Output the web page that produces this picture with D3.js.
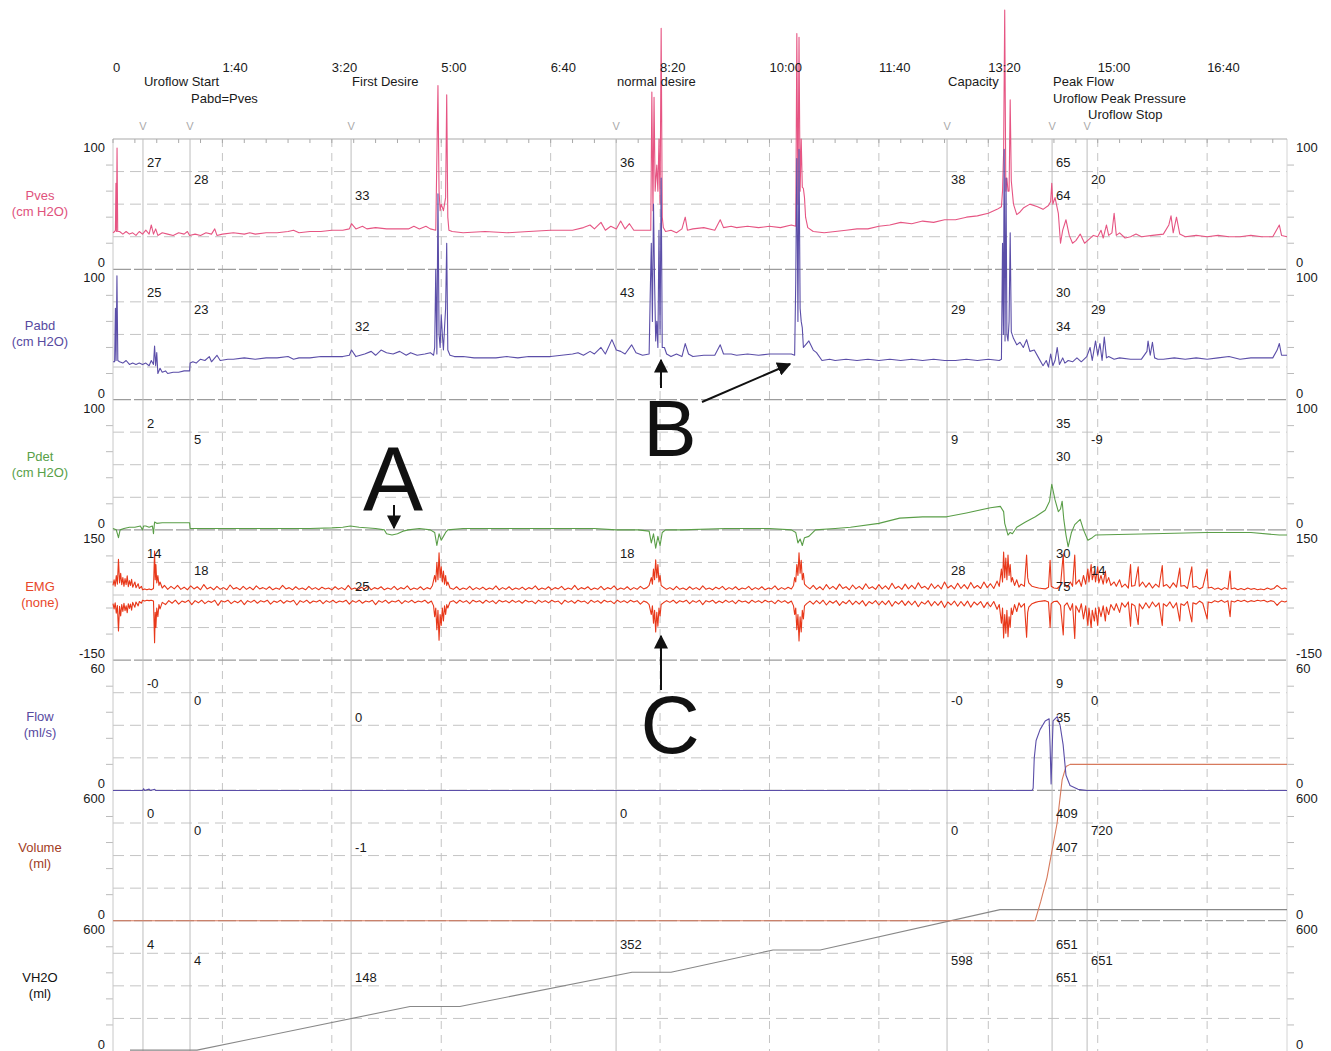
<!DOCTYPE html>
<html><head><meta charset="utf-8">
<script src="https://cdn.jsdelivr.net/npm/d3@7"></script>
<style>body{margin:0;background:#fff} text{font-family:"Liberation Sans",Arial,sans-serif}</style>
</head><body><svg id="c" width="1331" height="1051"></svg>
<script>
// ---------------- DATA ----------------
const duration = 1073; // seconds shown
const timeTickSeconds = [0,100,200,300,400,500,600,700,800,900,1000];
const timeTickLabels = ["0","1:40","3:20","5:00","6:40","8:20","10:00","11:40","13:20","15:00","16:40"];

const channels = ["Pves","Pabd","Pdet","EMG","Flow","Volume","VH2O"];
const channelUnits = ["(cm H2O)","(cm H2O)","(cm H2O)","(none)","(ml/s)","(ml)","(ml)"];
const channelMin = [0,0,0,-150,0,0,0];
const channelMax = [100,100,100,150,60,600,600];

const eventTimes = [27.4,70.4,217.6,459.8,762.3,858.3,858.3,890.3];
const eventNames = ["Uroflow Start","Pabd=Pves","First Desire","normal desire","Capacity","Peak Flow","Uroflow Peak Pressure","Uroflow Stop"];
const eventLabelRow = [0,1,0,0,0,0,1,2];
const eventValueRow = [0,1,2,0,1,0,2,1];

const valPves   = ["27","28","33","36","38","65","64","20"];
const valPabd   = ["25","23","32","43","29","30","34","29"];
const valPdet   = ["2","5",null,null,"9","35","30","-9"];
const valEMG    = ["14","18","25","18","28","30","75","14"];
const valFlow   = ["-0","0","0",null,"-0","9","35","0"];
const valVolume = ["0","0","-1","0","0","409","407","720"];
const valVH2O   = ["4","4","148","352","598","651","651","651"];

const pves = [[0,28],[1.5,29],[2.2,30],[2.7,66],[3.1,29],[3.7,93],[4.3,29],[6,29],[9,27],[12,29],[15,27],[18,28],[21,26],[24,29],[27,27],[30,30],[33,27],[35,34],[37,27],[39,31],[41,26],[45,28],[50,27],[55,26],[60,28],[65,27],[68,29],[70,26],[75,27],[80,26],[85,28],[90,27],[93,31],[95,26],[100,27],[110,28],[120,27],[125,28],[130,27],[140,28],[150,28],[160,29],[165,30],[170,28],[180,29],[190,29],[200,30],[210,30],[216,31],[218,35],[222,31],[228,33],[232,31],[240,32],[250,31],[260,31],[270,31],[275,33],[280,31],[286,33],[290,31],[295,30],[297,141],[298,60],[299,45],[300,50],[302,45],[304,55],[305,134],[306,40],[307,30],[310,29],[320,28],[340,29],[360,28],[380,29],[400,30],[420,30],[430,32],[436,34],[440,31],[446,36],[450,30],[455,33],[460,31],[464,37],[468,31],[472,35],[476,30],[485,30],[491.5,30],[492.5,136],[493.5,45],[494.5,132],[495.5,60],[497,80],[498,60],[499,100],[500,50],[501,185],[502,40],[503,32],[505,29],[510,30],[515,28],[520,31],[523,40],[525,30],[530,31],[540,32],[550,30],[555,38],[558,32],[565,33],[570,32],[580,33],[590,32],[600,33],[610,32],[620,34],[624,33],[625,181],[626,50],[627,178],[628,60],[629,100],[630,63],[631,62],[632,55],[633,40],[635,32],[640,29],[650,28],[660,29],[670,30],[680,31],[690,31],[700,33],[710,34],[720,36],[730,35],[740,37],[750,36],[760,38],[770,38],[780,40],[790,41],[800,43],[808,46],[812,48],[813,60],[814,90],[815,199],[816,60],[817,70],[818,60],[819,60],[820,130],[821,68],[823,50],[826,42],[829,44],[832,47],[838,50],[845,48],[850,46],[855,49],[857,52],[858,66],[859,50],[861,55],[864,43],[866,20],[868,30],[871,38],[874,26],[877,20],[880,22],[884,27],[888,20],[892,23],[896,26],[900,25],[903,30],[905,24],[908,34],[910,26],[913,28],[915,43],[917,26],[920,28],[925,24],[930,25],[935,27],[940,25],[950,26],[960,27],[965,34],[967,41],[969,28],[972,40],[975,27],[980,25],[990,26],[1000,25],[1010,26],[1020,25],[1030,25],[1040,26],[1050,25],[1060,25],[1066,34],[1068,26],[1073,25]];

const pabd = [[0,29],[1.5,29],[2.2,70],[2.8,30],[3.6,95],[4.4,30],[6,29],[9,28],[12,30],[15,27],[18,28],[21,27],[24,28],[27,27],[30,28],[33,26],[35,30],[37,27],[38,41],[39,26],[40,36],[41,20],[43,24],[45,21],[48,22],[50,20],[55,21],[60,21],[65,22],[70,22],[70.5,28],[73,29],[76,28],[80,31],[84,30],[88,33],[90,29],[95,34],[98,30],[105,31],[110,31],[120,32],[130,31],[140,32],[150,32],[160,33],[165,31],[170,32],[180,32],[190,33],[200,33],[210,33],[216,34],[218,38],[222,33],[230,35],[236,37],[240,34],[245,38],[250,36],[256,35],[262,37],[268,34],[272,36],[278,34],[285,35],[290,36],[293,34],[294,40],[295,100],[296,35],[297,158],[298,50],[299,40],[300,65],[301,50],[302,38],[303,55],[304,70],[305,120],[306,38],[308,34],[312,33],[320,33],[330,32],[340,32],[350,32],[360,33],[370,32],[380,33],[390,33],[400,33],[410,34],[420,35],[425,36],[430,34],[436,37],[440,35],[446,40],[450,35],[456,46],[460,38],[464,37],[468,35],[474,42],[478,36],[484,34],[490,35],[491,80],[492,120],[493,60],[494,150],[495,90],[496,45],[497,60],[498,40],[499,130],[500,50],[501,170],[502,40],[504,40],[506,35],[510,33],[515,35],[520,33],[523,43],[526,35],[530,33],[540,34],[550,34],[555,42],[558,35],[565,35],[570,34],[580,35],[590,34],[600,35],[610,35],[620,35],[623,34],[624,90],[625,185],[626,60],[627,192],[628,70],[629,60],[630,55],[631,40],[633,42],[636,45],[640,38],[643,36],[648,30],[655,31],[660,30],[670,31],[680,30],[690,31],[700,30],[710,31],[720,30],[730,31],[740,30],[750,31],[760,30],[770,30],[780,31],[790,30],[800,31],[810,30],[812,31],[813,120],[813.8,50],[814.5,192],[815.3,45],[816.2,170],[817,50],[818,45],[819,60],[820,128],[821,52],[823,47],[826,42],[829,44],[832,40],[835,46],[838,37],[842,38],[846,32],[850,26],[853,30],[855,25],[857,35],[859,26],[861,30],[863,40],[865,27],[868,32],[870,28],[873,30],[877,29],[881,32],[885,29],[890,33],[893,40],[895,30],[898,45],[900,34],[902,43],[904,30],[906,48],[908,32],[910,33],[915,31],[920,32],[930,31],[940,31],[945,37],[946,45],[948,34],[950,44],[952,32],[955,31],[960,31],[970,32],[980,31],[990,32],[1000,31],[1010,32],[1020,33],[1030,31],[1040,32],[1050,32],[1060,32],[1064,38],[1066,43],[1068,34],[1073,34]];

const pdet = [[0,1],[3,0],[5,-6],[6.5,0],[10,1],[15,2],[20,2],[25,3],[27,0],[28,3],[30,3],[33,2],[36,3],[37,-3],[38,6],[40,5],[45,5.5],[50,5.5],[60,5.5],[70,5.5],[70.5,1],[80,1],[100,1],[120,1],[150,1],[180,1],[200,1.5],[210,2],[217,3],[225,2],[240,1],[248,0],[250,-3],[255,-4],[260,-3],[265,-1],[270,0],[280,1],[290,0],[294,-2],[296,-12],[298,-3],[300,-8],[302,-5],[304,-2],[306,0],[320,1],[350,1],[400,1],[440,1],[460,0],[480,0],[490,-1],[492,-10],[494,-3],[496,-14],[498,-5],[500,-12],[502,-2],[505,0],[520,0],[560,1],[600,1],[620,0],[624,-2],[626,-10],[628,-7],[630,-12],[632,-6],[636,-5],[642,0],[660,1],[674,2],[700,5],[719,9],[740,10],[762,10],[780,13],[802,17],[811,18],[814,14],[815,5],[818,-4],[820,-2],[822,-3],[826,2],[834,6],[843,10],[852,15],[856,22],[858,35],[861,23],[864,14],[866,16],[867.5,22],[869,8],[871,-4],[873,-13],[876,-2],[879,4],[884,8],[887,0],[891,-8],[895,-6],[898,-4],[950,-3],[1000,-2],[1040,-2],[1066,-4],[1073,-4]];

const emgUpper = [[0,22],[1,35],[2,20],[3,45],[4,25],[5,82],[6,28],[7,50],[8,24],[9,40],[10,20],[11,38],[12,24],[13,44],[14,19],[15,33],[16,22],[17,36],[18,18],[20,30],[21,17],[23,26],[24,15],[26,20],[27,12],[29,14],[31,12],[33,14],[35,12],[37,15],[38,101],[38.6,35],[39.2,70],[40,28],[41,45],[42,22],[43,30],[45,16],[47,22],[50,13],[53,20],[56,14],[59,22],[62,13],[65,18],[68,12],[71,21],[74,14],[77,19],[80,12],[83,24],[86,14],[89,18],[92,12],[95,20],[98,13],[101,17],[104,12],[107,23],[110,14],[113,17],[116,12],[119,20],[122,13],[125,18],[128,12],[131,21],[134,14],[137,17],[140,13],[143,19],[146,12],[149,16],[152,13],[155,22],[158,14],[161,17],[164,12],[167,19],[170,13],[173,16],[176,12],[179,20],[182,13],[185,17],[188,12],[191,18],[194,14],[197,16],[200,12],[203,19],[206,13],[209,17],[212,12],[215,22],[218,13],[221,16],[224,12],[227,18],[230,14],[233,21],[236,12],[239,17],[242,14],[245,19],[248,12],[251,16],[254,13],[257,20],[260,12],[263,17],[266,14],[269,21],[272,12],[275,16],[278,13],[281,19],[284,12],[287,17],[290,14],[292,22],[294,45],[295,30],[296,75],[297,35],[298,97],[299,40],[300,65],[301,30],[302,55],[303,25],[304,45],[305,22],[306,30],[308,16],[311,13],[314,19],[317,12],[320,16],[323,13],[326,20],[329,12],[332,17],[335,13],[338,18],[341,12],[344,16],[347,13],[350,21],[353,12],[356,17],[359,13],[362,19],[365,12],[368,16],[371,13],[374,18],[377,12],[380,17],[383,14],[386,21],[389,12],[392,16],[395,13],[398,19],[401,12],[404,17],[407,14],[410,20],[413,12],[416,16],[419,13],[422,22],[425,12],[428,17],[431,14],[434,19],[437,12],[440,16],[443,13],[446,20],[449,12],[452,17],[455,14],[458,21],[461,12],[464,16],[467,13],[470,19],[473,12],[476,17],[479,13],[482,20],[485,14],[488,17],[490,22],[492,40],[493,25],[494,60],[495,35],[496,81],[497,40],[498,70],[499,30],[500,45],[501,22],[503,18],[506,13],[509,17],[512,12],[515,20],[518,13],[521,16],[524,12],[527,19],[530,13],[533,17],[536,12],[539,21],[542,13],[545,16],[548,12],[551,18],[554,14],[557,20],[560,12],[563,17],[566,13],[569,19],[572,12],[575,16],[578,14],[581,20],[584,12],[587,17],[590,13],[593,19],[596,12],[599,16],[602,14],[605,21],[608,12],[611,17],[614,13],[617,18],[620,14],[622,22],[623,40],[624,30],[625,70],[626,45],[627,97],[628,50],[629,80],[630,35],[631,50],[632,25],[634,20],[637,14],[640,22],[643,13],[646,19],[649,12],[652,24],[655,14],[658,20],[661,13],[664,25],[667,15],[670,19],[673,12],[676,23],[679,14],[682,20],[685,13],[688,26],[691,15],[694,19],[697,13],[700,24],[703,14],[706,21],[709,13],[712,27],[715,15],[718,20],[721,13],[724,25],[727,14],[730,22],[733,14],[736,28],[739,16],[742,20],[745,13],[748,26],[751,15],[754,23],[757,14],[760,30],[763,16],[766,22],[769,14],[772,27],[775,15],[778,24],[781,14],[784,29],[787,16],[790,22],[793,15],[796,30],[799,17],[802,26],[805,15],[808,32],[810,20],[812,60],[813,30],[814,99],[815,40],[816,85],[817,35],[818,92],[819,45],[820,70],[821,30],[822,40],[824,22],[826,35],[828,18],[830,25],[833,20],[835,92],[836,40],[837,28],[840,20],[843,18],[846,16],[849,15],[852,14],[855,18],[856.5,80],[857.5,20],[860,16],[863,15],[866,22],[868.5,95],[869.5,25],[872,18],[875,30],[877,20],[879,92],[880,25],[883,35],[885,20],[887,45],[889,25],[891,60],[892,30],[894,70],[895,35],[897,55],[898,30],[900,65],[901,28],[903,45],[905,25],[907,55],[908,28],[910,40],[912,22],[915,30],[917,20],[920,35],[922,18],[925,25],[928,16],[930,70],[931,20],[934,22],[937,65],[938,20],[941,30],[944,18],[947,28],[950,16],[953,25],[956,18],[959,68],[960,20],[963,24],[966,16],[969,28],[972,18],[975,62],[976,20],[979,22],[982,15],[986,65],[987,18],[990,20],[993,14],[996,18],[1000,60],[1001,16],[1004,18],[1007,13],[1010,16],[1013,12],[1016,17],[1019,13],[1021,55],[1022,14],[1025,16],[1028,12],[1031,15],[1034,12],[1037,16],[1040,13],[1043,15],[1046,12],[1049,14],[1052,12],[1055,16],[1058,13],[1061,15],[1064,22],[1066,18],[1068,14],[1071,16],[1073,14]];

const emgLower = [[0,-20],[1,-32],[2,-18],[3,-42],[4,-24],[5,-83],[6,-26],[7,-48],[8,-22],[9,-38],[10,-19],[11,-36],[12,-25],[13,-41],[14,-20],[15,-31],[16,-21],[17,-35],[18,-17],[20,-28],[21,-16],[23,-25],[24,-15],[26,-19],[27,-12],[29,-14],[31,-12],[33,-13],[35,-12],[37,-14],[38,-110],[38.6,-40],[39.2,-75],[40,-30],[41,-50],[42,-22],[43,-32],[45,-17],[48,-22],[51,-13],[54,-19],[57,-12],[60,-21],[63,-14],[66,-17],[69,-12],[72,-22],[75,-13],[78,-18],[81,-12],[84,-20],[87,-14],[90,-17],[93,-12],[96,-24],[99,-13],[102,-16],[105,-12],[108,-20],[111,-14],[114,-18],[117,-12],[120,-22],[123,-13],[126,-17],[129,-12],[132,-19],[135,-13],[138,-16],[141,-12],[144,-21],[147,-14],[150,-17],[153,-12],[156,-19],[159,-13],[162,-16],[165,-12],[168,-23],[171,-13],[174,-17],[177,-12],[180,-19],[183,-14],[186,-16],[189,-12],[192,-20],[195,-13],[198,-17],[201,-12],[204,-18],[207,-14],[210,-16],[213,-12],[216,-21],[219,-13],[222,-17],[225,-12],[228,-19],[231,-14],[234,-16],[237,-12],[240,-22],[243,-13],[246,-17],[249,-12],[252,-19],[255,-14],[258,-16],[261,-12],[264,-20],[267,-13],[270,-17],[273,-12],[276,-18],[279,-14],[282,-16],[285,-12],[288,-19],[291,-14],[293,-25],[294,-50],[295,-30],[296,-80],[297,-35],[298,-104],[299,-45],[300,-70],[301,-30],[302,-60],[303,-25],[304,-45],[305,-22],[306,-30],[308,-16],[311,-13],[314,-19],[317,-12],[320,-17],[323,-13],[326,-20],[329,-12],[332,-16],[335,-13],[338,-19],[341,-12],[344,-17],[347,-13],[350,-20],[353,-12],[356,-16],[359,-13],[362,-18],[365,-12],[368,-17],[371,-13],[374,-19],[377,-12],[380,-16],[383,-14],[386,-20],[389,-12],[392,-17],[395,-13],[398,-18],[401,-12],[404,-16],[407,-14],[410,-21],[413,-12],[416,-17],[419,-13],[422,-19],[425,-12],[428,-16],[431,-14],[434,-20],[437,-12],[440,-17],[443,-13],[446,-19],[449,-12],[452,-16],[455,-14],[458,-20],[461,-12],[464,-17],[467,-13],[470,-18],[473,-12],[476,-16],[479,-13],[482,-21],[485,-14],[488,-17],[490,-22],[492,-45],[493,-25],[494,-65],[495,-35],[496,-85],[497,-40],[498,-72],[499,-30],[500,-48],[501,-22],[503,-18],[506,-13],[509,-17],[512,-12],[515,-19],[518,-13],[521,-16],[524,-12],[527,-20],[530,-13],[533,-17],[536,-12],[539,-22],[542,-13],[545,-16],[548,-12],[551,-19],[554,-14],[557,-18],[560,-12],[563,-17],[566,-13],[569,-20],[572,-12],[575,-16],[578,-14],[581,-19],[584,-12],[587,-17],[590,-13],[593,-18],[596,-12],[599,-16],[602,-14],[605,-20],[608,-12],[611,-17],[614,-13],[617,-19],[620,-14],[622,-25],[623,-45],[624,-30],[625,-80],[626,-45],[627,-106],[628,-50],[629,-85],[630,-35],[631,-55],[632,-25],[634,-20],[637,-14],[640,-21],[643,-13],[646,-20],[649,-12],[652,-23],[655,-14],[658,-19],[661,-13],[664,-24],[667,-15],[670,-20],[673,-12],[676,-22],[679,-14],[682,-21],[685,-13],[688,-25],[691,-15],[694,-20],[697,-13],[700,-23],[703,-14],[706,-22],[709,-13],[712,-26],[715,-15],[718,-21],[721,-13],[724,-24],[727,-14],[730,-23],[733,-14],[736,-27],[739,-16],[742,-21],[745,-13],[748,-25],[751,-15],[754,-24],[757,-14],[760,-29],[763,-16],[766,-23],[769,-14],[772,-26],[775,-15],[778,-25],[781,-14],[784,-28],[787,-16],[790,-23],[793,-15],[796,-29],[799,-17],[802,-27],[805,-15],[808,-33],[810,-22],[812,-65],[813,-30],[814,-99],[815,-45],[816,-88],[817,-35],[818,-96],[819,-50],[820,-75],[821,-30],[822,-45],[824,-22],[826,-38],[828,-18],[830,-28],[833,-20],[835,-97],[836,-40],[837,-28],[840,-20],[843,-17],[846,-15],[849,-14],[852,-13],[855,-16],[856.5,-75],[857.5,-20],[860,-15],[863,-14],[866,-24],[868.5,-92],[869.5,-25],[872,-18],[875,-35],[877,-20],[879,-100],[880,-25],[883,-40],[885,-20],[887,-55],[889,-25],[891,-70],[892,-30],[894,-75],[895,-35],[897,-60],[898,-30],[900,-70],[901,-28],[903,-50],[905,-25],[907,-60],[908,-28],[910,-45],[912,-22],[915,-35],[917,-20],[920,-40],[922,-18],[925,-28],[928,-16],[930,-72],[931,-20],[934,-25],[937,-68],[938,-20],[941,-32],[944,-18],[947,-30],[950,-16],[953,-27],[956,-18],[959,-70],[960,-20],[963,-26],[966,-16],[969,-30],[972,-18],[975,-60],[976,-20],[979,-24],[982,-15],[986,-62],[987,-18],[990,-21],[993,-14],[996,-19],[1000,-55],[1001,-16],[1004,-18],[1007,-13],[1010,-16],[1013,-12],[1016,-17],[1019,-13],[1021,-50],[1022,-14],[1025,-16],[1028,-12],[1031,-15],[1034,-12],[1037,-16],[1040,-13],[1043,-15],[1046,-12],[1049,-14],[1052,-12],[1055,-16],[1058,-13],[1061,-15],[1064,-24],[1066,-18],[1068,-14],[1071,-16],[1073,-14]];

const flow = [[0,0],[27,0],[28,0.8],[29,0],[33,0.6],[34,0],[38,0.5],[39,0],[840,0],[841,1],[842,15],[843.7,23],[847.3,28],[852,32],[855.6,33],[856.5,20],[857.4,3],[858.3,18],[859.2,32],[863,34],[865.6,30],[868.4,21],[871,7],[874.7,2.3],[882,0.5],[890,0],[1073,0]];
const volume = [[0,0],[842.8,0],[848,90],[853.7,200],[862.9,450],[867.5,650],[871,710],[874.8,720],[1073,720]];
const vh2o = [[15.5,4],[76.8,4],[271.5,205],[317,205],[474.4,363],[510,363],[603.3,465],[646.3,465],[810.8,651],[1073,651]];

const traceData = [pves,pabd,pdet,null,flow,volume,vh2o];
const channelValues = [valPves,valPabd,valPdet,valEMG,valFlow,valVolume,valVH2O];

// ---------------- STYLE / LAYOUT ----------------
const W = 1331, H = 1051;
const plotL = 113, plotR = 1287, topY = 139, bottomY = 1051;
const panelH = (bottomY - topY) / channels.length;
const labelColors = ["#e0517c","#574a9f","#58a048","#e8472a","#574a9f","#a23d1e","#111"];
const traceColors = ["#e65583","#5b4ea8","#5a9e48","#e8381a","#5b4ea8","#d77a5c","#888"];

const svg = d3.select("#c");
svg.append("rect").attr("width",W).attr("height",H).attr("fill","#fff");
const x = d3.scaleLinear().domain([0,duration]).range([plotL,plotR]);

const yScales = channels.map((c,i)=> d3.scaleLinear()
  .domain([channelMin[i],channelMax[i]])
  .range([topY+(i+1)*panelH, topY+i*panelH]));

const grid = svg.append("g");
grid.selectAll("line.vg").data(timeTickSeconds.filter(t=>t>0)).join("line")
  .attr("x1",d=>x(d)).attr("x2",d=>x(d)).attr("y1",topY).attr("y2",bottomY)
  .attr("stroke","#c4c4c4").attr("stroke-dasharray","8,6");
channels.forEach((c,i)=>{
  const t0 = topY+i*panelH;
  [0.25,0.5,0.75].forEach(f=>{
    grid.append("line").attr("x1",plotL).attr("x2",plotR)
      .attr("y1",t0+f*panelH).attr("y2",t0+f*panelH)
      .attr("stroke","#c4c4c4").attr("stroke-dasharray","11,6");
  });
  [0.2,0.4,0.6,0.8].forEach(f=>{
    grid.append("line").attr("x1",plotL-7).attr("x2",plotL).attr("y1",t0+f*panelH).attr("y2",t0+f*panelH).attr("stroke","#bbb");
    grid.append("line").attr("x1",plotR).attr("x2",plotR+7).attr("y1",t0+f*panelH).attr("y2",t0+f*panelH).attr("stroke","#bbb");
  });
  if(i>0) grid.append("line").attr("x1",plotL).attr("x2",plotR).attr("y1",t0).attr("y2",t0)
      .attr("stroke","#9c9c9c").attr("stroke-width",1.3).attr("stroke-dasharray","18,3");
});
grid.append("line").attr("x1",plotL).attr("x2",plotL).attr("y1",topY).attr("y2",bottomY).attr("stroke","#c8c8c8");
grid.append("line").attr("x1",plotR).attr("x2",plotR).attr("y1",topY).attr("y2",bottomY).attr("stroke","#d4d4d4");
grid.append("line").attr("x1",plotL).attr("x2",plotR).attr("y1",topY).attr("y2",topY).attr("stroke","#aaa").attr("stroke-width",1.2);
grid.selectAll("line.mt").data(d3.range(0,duration,20)).join("line")
  .attr("x1",d=>x(d)).attr("x2",d=>x(d)).attr("y1",topY).attr("y2",topY+4).attr("stroke","#aaa");
const uniqEvents = [...new Set(eventTimes)];
grid.selectAll("line.ev").data(uniqEvents).join("line")
  .attr("x1",d=>x(d)).attr("x2",d=>x(d)).attr("y1",topY).attr("y2",bottomY)
  .attr("stroke","#bdbdbd").attr("stroke-width",1);
grid.selectAll("text.v").data(uniqEvents).join("text")
  .attr("x",d=>x(d)).attr("y",130).attr("text-anchor","middle")
  .attr("font-size",11).attr("fill","#aaa").text("V");

// traces
const line = (ys)=> d3.line().x(d=>x(d[0])).y(d=>ys(d[1]));
const tr = svg.append("g").attr("fill","none").attr("stroke-width",1.1).attr("stroke-linejoin","round");
[0,1,2].forEach(i=> tr.append("path").attr("d",line(yScales[i])(traceData[i])).attr("stroke",traceColors[i]));
tr.append("path").attr("d",line(yScales[3])(emgUpper)).attr("stroke",traceColors[3]);
tr.append("path").attr("d",line(yScales[3])(emgLower)).attr("stroke",traceColors[3]);
tr.append("path").attr("d",line(yScales[6])(vh2o)).attr("stroke",traceColors[6]);
tr.append("path").attr("d",line(yScales[5])(volume)).attr("stroke",traceColors[5]);
tr.append("path").attr("d",line(yScales[4])(flow)).attr("stroke",traceColors[4]);

// text
const tx = svg.append("g").attr("font-size",13).attr("fill","#1a1a1a");
timeTickSeconds.forEach((t,i)=> tx.append("text").attr("x",x(t)).attr("y",72).text(timeTickLabels[i]));
eventTimes.forEach((t,i)=> tx.append("text").attr("x",x(t)+1).attr("y",86+eventLabelRow[i]*16.5).text(eventNames[i]));
channels.forEach((c,i)=>{
  const t0 = topY+i*panelH, b0 = t0+panelH;
  tx.append("text").attr("x",105).attr("y",t0+13).attr("text-anchor","end").text(channelMax[i]);
  tx.append("text").attr("x",105).attr("y",b0-2).attr("text-anchor","end").text(channelMin[i]);
  tx.append("text").attr("x",1296).attr("y",t0+13).text(channelMax[i]);
  tx.append("text").attr("x",1296).attr("y",b0-2).text(channelMin[i]);
  const mid = t0+panelH/2;
  tx.append("text").attr("x",40).attr("y",mid-4).attr("text-anchor","middle").attr("fill",labelColors[i]).text(c);
  tx.append("text").attr("x",40).attr("y",mid+12).attr("text-anchor","middle").attr("fill",labelColors[i]).text(channelUnits[i]);
  channelValues[i].forEach((v,j)=>{
    if(v===null) return;
    tx.append("text").attr("x",x(eventTimes[j])+4).attr("y",t0+28+eventValueRow[j]*16.7).text(v);
  });
});

// annotations
const defs = svg.append("defs");
defs.append("marker").attr("id","ah").attr("viewBox","0 0 10 10").attr("refX",9).attr("refY",5)
  .attr("markerWidth",7).attr("markerHeight",7).attr("orient","auto")
  .append("path").attr("d","M0,0 L10,5 L0,10 z").attr("fill","#111");
const an = svg.append("g");
const letters = [["A",393,510,90],["B",670,456,80],["C",670,753,82]];
letters.forEach(l=> an.append("text").attr("x",l[1]).attr("y",l[2]).attr("text-anchor","middle")
  .attr("font-size",l[3]).attr("fill","#111").text(l[0]));
const arrows = [[394,505,394,528],[661,388,661,360],[702,402,790,364],[661,690,661,636]];
arrows.forEach(a=> an.append("line").attr("x1",a[0]).attr("y1",a[1]).attr("x2",a[2]).attr("y2",a[3])
  .attr("stroke","#111").attr("stroke-width",2).attr("marker-end","url(#ah)"));
</script></body></html>
